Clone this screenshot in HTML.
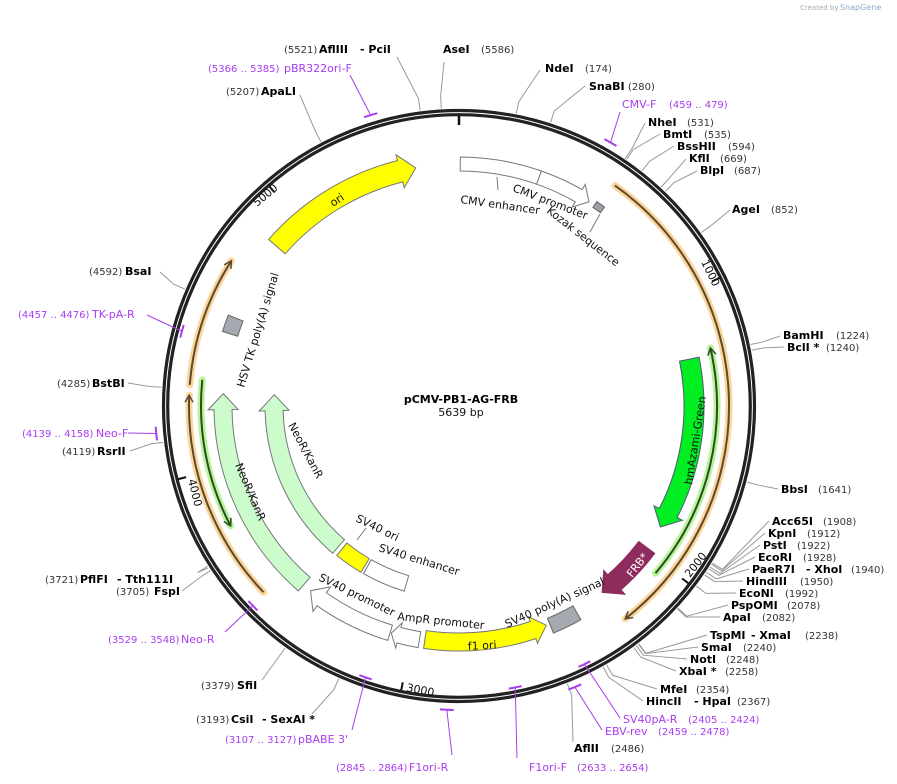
<!DOCTYPE html>
<html><head><meta charset="utf-8"><style>
html,body{margin:0;padding:0;background:#fff;}
svg{display:block;font-family:"DejaVu Sans","Liberation Sans",sans-serif;}
.b{font-weight:bold;font-size:11px;fill:#000}
.n{font-size:10px;fill:#333}
.p{font-size:11px;fill:#a93cf0}
.pn{font-size:10px;fill:#a93cf0}
.f{font-size:11px;fill:#111}
</style></head><body>
<svg id="s" width="897" height="784" viewBox="0 0 897 784" xmlns="http://www.w3.org/2000/svg">
<g id="g"></g>
<text x="800" y="10" font-size="7" fill="#aaa">Created by</text><text x="840" y="10" font-size="8" fill="#88aacc">SnapGene</text>
<text x="461" y="403" text-anchor="middle" class="b">pCMV-PB1-AG-FRB</text>
<text x="461" y="416" text-anchor="middle" font-size="11" fill="#111">5639 bp</text>

<text x="284" y="53" class="n">(5521)</text><text x="319" y="53" class="b">AflIII</text><text x="360" y="53" class="b">- PciI</text>
<text x="443" y="53" class="b">AseI</text><text x="481" y="53" class="n">(5586)</text>
<text x="545" y="72" class="b">NdeI</text><text x="585" y="72" class="n">(174)</text>
<text x="589" y="90" class="b">SnaBI</text><text x="628" y="90" class="n">(280)</text>
<text x="622" y="108" class="p">CMV-F</text><text x="669" y="108" class="pn">(459 .. 479)</text>
<text x="648" y="126" class="b">NheI</text><text x="687" y="126" class="n">(531)</text>
<text x="663" y="138" class="b">BmtI</text><text x="704" y="138" class="n">(535)</text>
<text x="677" y="150" class="b">BssHII</text><text x="728" y="150" class="n">(594)</text>
<text x="689" y="162" class="b">KflI</text><text x="720" y="162" class="n">(669)</text>
<text x="700" y="174" class="b">BlpI</text><text x="734" y="174" class="n">(687)</text>
<text x="732" y="213" class="b">AgeI</text><text x="771" y="213" class="n">(852)</text>
<text x="783" y="339" class="b">BamHI</text><text x="836" y="339" class="n">(1224)</text>
<text x="787" y="351" class="b">BclI *</text><text x="826" y="351" class="n">(1240)</text>
<text x="781" y="493" class="b">BbsI</text><text x="818" y="493" class="n">(1641)</text>
<text x="772" y="525" class="b">Acc65I</text><text x="823" y="525" class="n">(1908)</text>
<text x="768" y="537" class="b">KpnI</text><text x="807" y="537" class="n">(1912)</text>
<text x="763" y="549" class="b">PstI</text><text x="797" y="549" class="n">(1922)</text>
<text x="758" y="561" class="b">EcoRI</text><text x="803" y="561" class="n">(1928)</text>
<text x="752" y="573" class="b">PaeR7I</text><text x="806" y="573" class="b">- XhoI</text><text x="851" y="573" class="n">(1940)</text>
<text x="746" y="585" class="b">HindIII</text><text x="800" y="585" class="n">(1950)</text>
<text x="739" y="597" class="b">EcoNI</text><text x="785" y="597" class="n">(1992)</text>
<text x="731" y="609" class="b">PspOMI</text><text x="787" y="609" class="n">(2078)</text>
<text x="723" y="621" class="b">ApaI</text><text x="762" y="621" class="n">(2082)</text>
<text x="710" y="639" class="b">TspMI</text><text x="751" y="639" class="b">- XmaI</text><text x="805" y="639" class="n">(2238)</text>
<text x="701" y="651" class="b">SmaI</text><text x="743" y="651" class="n">(2240)</text>
<text x="690" y="663" class="b">NotI</text><text x="726" y="663" class="n">(2248)</text>
<text x="679" y="675" class="b">XbaI *</text><text x="725" y="675" class="n">(2258)</text>
<text x="660" y="693" class="b">MfeI</text><text x="696" y="693" class="n">(2354)</text>
<text x="646" y="705" class="b">HincII</text><text x="694" y="705" class="b">- HpaI</text><text x="737" y="705" class="n">(2367)</text>
<text x="623" y="723" class="p">SV40pA-R</text><text x="688" y="723" class="pn">(2405 .. 2424)</text>
<text x="605" y="735" class="p">EBV-rev</text><text x="658" y="735" class="pn">(2459 .. 2478)</text>
<text x="574" y="752" class="b">AflII</text><text x="611" y="752" class="n">(2486)</text>
<text x="529" y="771" class="p">F1ori-F</text><text x="577" y="771" class="pn">(2633 .. 2654)</text>
<text x="336" y="771" class="pn">(2845 .. 2864)</text><text x="409" y="771" class="p">F1ori-R</text>
<text x="225" y="743" class="pn">(3107 .. 3127)</text><text x="298" y="743" class="p">pBABE 3'</text>
<text x="196" y="723" class="n">(3193)</text><text x="231" y="723" class="b">CsiI</text><text x="262" y="723" class="b">- SexAI *</text>
<text x="201" y="689" class="n">(3379)</text><text x="237" y="689" class="b">SfiI</text>
<text x="108" y="643" class="pn">(3529 .. 3548)</text><text x="181" y="643" class="p">Neo-R</text>
<text x="45" y="583" class="n">(3721)</text><text x="80" y="583" class="b">PflFI</text><text x="117" y="583" class="b">- Tth111I</text>
<text x="116" y="595" class="n">(3705)</text><text x="154" y="595" class="b">FspI</text>
<text x="22" y="437" class="pn">(4139 .. 4158)</text><text x="96" y="437" class="p">Neo-F</text>
<text x="62" y="455" class="n">(4119)</text><text x="97" y="455" class="b">RsrII</text>
<text x="57" y="387" class="n">(4285)</text><text x="92" y="387" class="b">BstBI</text>
<text x="18" y="318" class="pn">(4457 .. 4476)</text><text x="92" y="318" class="p">TK-pA-R</text>
<text x="89" y="275" class="n">(4592)</text><text x="125" y="275" class="b">BsaI</text>
<text x="226" y="95" class="n">(5207)</text><text x="261" y="95" class="b">ApaLI</text>
<text x="208" y="72" class="pn">(5366 .. 5385)</text><text x="284" y="72" class="p">pBR322ori-F</text>

<text class="f" transform="translate(460,203) rotate(8)">CMV enhancer</text>
<text class="f" transform="translate(512,191) rotate(21)">CMV promoter</text>
<text class="f" transform="translate(546,212) rotate(38)">Kozak sequence</text>
<text class="f" transform="translate(244,388) rotate(-73)">HSV TK poly(A) signal</text>
<text class="f" transform="translate(355,521) rotate(26)">SV40 ori</text>
<text class="f" transform="translate(378,551) rotate(17)">SV40 enhancer</text>
<text class="f" transform="translate(318,580) rotate(26)">SV40 promoter</text>
<text class="f" transform="translate(397,620) rotate(6)">AmpR promoter</text>
<text class="f" transform="translate(507,628) rotate(-24)">SV40 poly(A) signal</text>
<text class="f" transform="translate(333,207) rotate(-33)">ori</text>
<text class="f" transform="translate(692,485) rotate(-81)">hmAzami-Green</text>
<text font-size="11" fill="#fff" transform="translate(632,578) rotate(-52)">FRB*</text>
<text class="f" transform="translate(468,650) rotate(-3)">f1 ori</text>
<text class="f" transform="translate(235,465) rotate(67)">NeoR/KanR</text>
<text class="f" transform="translate(288,425) rotate(62)">NeoR/KanR</text>
<text class="f" transform="translate(701,262) rotate(64)">1000</text>
<text class="f" transform="translate(690,578) rotate(-52)">2000</text>
<text class="f" transform="translate(406,691) rotate(11)">3000</text>
<text class="f" transform="translate(188,480) rotate(76)">4000</text>
<text class="f" transform="translate(257,207) rotate(-40)">5000</text>
</svg>
<script>
var cx=459,cy=406,g=document.getElementById('g'),NS='http://www.w3.org/2000/svg';
function P(r,a){a=a*Math.PI/180;return [cx+r*Math.sin(a),cy-r*Math.cos(a)];}
function pt(r,a){var p=P(r,a);return p[0].toFixed(1)+' '+p[1].toFixed(1);}
function el(t,at){var e=document.createElementNS(NS,t);for(var k in at)e.setAttribute(k,at[k]);g.appendChild(e);return e;}
function arc(r,a1,a2){return 'M'+pt(r,a1)+' A'+r+' '+r+' 0 '+((a2-a1)>180?1:0)+' 1 '+pt(r,a2);}
function arrow(r,w,a1,a2,dir,fill,stroke,hl,hw){
 hl=hl||14;hw=hw||w+10;var h=hl/r*180/Math.PI,o=r+w/2,i=r-w/2,d;
 if(dir==1){var b=a2-h;d='M'+pt(o,a1)+' A'+o+' '+o+' 0 0 1 '+pt(o,b)+' L'+pt(r+hw/2,b)+' L'+pt(r,a2)+' L'+pt(r-hw/2,b)+' L'+pt(i,b)+' A'+i+' '+i+' 0 0 0 '+pt(i,a1)+' Z';}
 else if(dir==-1){var b=a1+h;d='M'+pt(r,a1)+' L'+pt(r+hw/2,b)+' L'+pt(o,b)+' A'+o+' '+o+' 0 0 1 '+pt(o,a2)+' L'+pt(i,a2)+' A'+i+' '+i+' 0 0 0 '+pt(i,b)+' L'+pt(r-hw/2,b)+' Z';}
 else{d='M'+pt(o,a1)+' A'+o+' '+o+' 0 0 1 '+pt(o,a2)+' L'+pt(i,a2)+' A'+i+' '+i+' 0 0 0 '+pt(i,a1)+' Z';}
 el('path',{d:d,fill:fill,stroke:stroke,'stroke-width':1});
}
function thin(r,a1,a2,dir,glow,line){
 el('path',{d:arc(r,a1,a2),fill:'none',stroke:glow,'stroke-width':7,'stroke-linecap':'round'});
 el('path',{d:arc(r,a1,a2),fill:'none',stroke:line,'stroke-width':2});
 var a=dir==1?a2:a1,h=7/r*180/Math.PI,b=dir==1?a2-h:a1+h;
 el('path',{d:'M'+pt(r+4,b)+' L'+pt(r,a)+' L'+pt(r-4,b),fill:'none',stroke:line,'stroke-width':1.5});
}
var S=[[352.5,397,57],[356.6,444,62],[11.1,540,70],[17.9,585,86],[33.9,645,123],[34.2,660,134],[37.9,674,146],[42.7,686,159],[43.9,697,171],[54.4,730,210],
[78.1,780,336],[79.2,784,347],[104.8,778,489],[121.8,769,521],[122.1,765,533],[122.7,760,545],[123.1,755,557],[123.9,749,569],[124.5,743,581],[127.2,736,593],[132.7,728,605],[132.9,720,617],
[142.9,707,635],[143,698,647],[143.5,687,659],[144.1,676,671],[150.3,657,689],[151.1,643,701],[158.7,573,742],[203.8,312,714],[215.7,262,680],[237.5,208,568],[236.5,182,591],[263,130,451],[273.6,128,383],[293.1,160,272],[332.4,300,95]];
S.forEach(function(s){var a=P(298,s[0]),b=P(310,s[0]);el('polyline',{points:a.join(',')+' '+b.join(',')+' '+s[1]+','+s[2],fill:'none',stroke:'#999','stroke-width':1});});
el('circle',{cx:cx,cy:cy,r:295.5,fill:'none',stroke:'#222','stroke-width':3.2});
el('circle',{cx:cx,cy:cy,r:291.3,fill:'none',stroke:'#222','stroke-width':3.2});
[0,63.8,127.7,191.5,255.4,319.2].forEach(function(a,i){el('path',{d:'M'+pt(290,a)+' L'+pt(i==0?281:282,a),stroke:'#111','stroke-width':i==0?2.5:2});});
var PR=[[29.9,304,620,112],[343.1,304,350,75],[285.1,287,147,315],[264.8,304,128,433],[225.9,287,225,632],[199,287,352,730],[182.3,304,452,755],[168.7,287,517,758],[157.6,304,602,730],[154.1,287,620,718]];
PR.forEach(function(p){var h=1.3;el('path',{d:arc(p[1],p[0]-h,p[0]+h),fill:'none',stroke:'#a93cf0','stroke-width':2});var a=P(p[1],p[0]);el('line',{x1:a[0],y1:a[1],x2:p[2],y2:p[3],stroke:'#a93cf0','stroke-width':1});});
thin(270,35.3,142,1,'#fcd59a','#5a4a30');
thin(258,77,130.4,-1,'#b8f59a','#2d4a20');
thin(270,226.4,272.3,1,'#fcd59a','#5a4a30');
thin(270,274.5,302.5,1,'#fcd59a','#5a4a30');
thin(258,242.3,275.8,-1,'#b8f59a','#2d4a20');
arrow(242,22,311.2,349.7,1,'#ffff00','#777',16,34);
arrow(242,14,0.3,19.3,0,'#fff','#777');
arrow(242,14,19.3,32.5,1,'#fff','#777',12,26);
arrow(243,7,34,36.2,0,'#9aa0a8','#666');
arrow(235,20,78.5,121,1,'#00ee22','#557',16,32);
arrow(235,20,127,142.5,1,'#8f2c5e','#8f2c5e',16,32);
arrow(238,16,150.3,157.4,0,'#a5a9b0','#666');
arrow(236,18,158.3,188.3,-1,'#ffff00','#777',14,28);
arrow(237,16,189.6,196.6,1,'#fff','#777',8,26);
arrow(237,16,196.9,218.8,1,'#fff','#777',14,30);
arrow(236,18,221,273,1,'#ccfccc','#777',16,30);
arrow(185,18,220.6,273.5,1,'#ccfccc','#777',16,30);
arrow(185,16,210.5,219.3,0,'#ffff00','#777');
arrow(185,16,196.5,209.7,0,'#fff','#777');
arrow(240,16,287.5,291.5,0,'#a5a9b0','#666');
el('line',{x1:600,y1:214,x2:590,y2:232,stroke:'#777'});
el('line',{x1:357,y1:540,x2:366,y2:528,stroke:'#777'});
el('line',{x1:497,y1:177,x2:498,y2:190,stroke:'#777'});
</script>
</body></html>
